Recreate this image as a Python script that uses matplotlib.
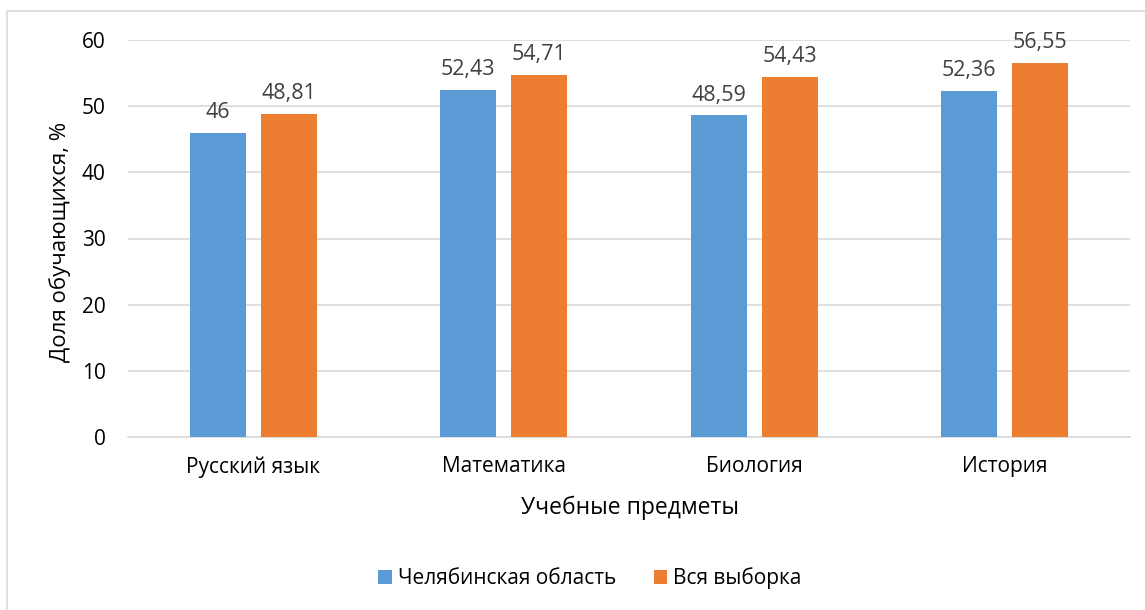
import matplotlib
matplotlib.use('Agg')
import matplotlib.pyplot as plt
import matplotlib.patches as mpatches
import numpy as np

categories = ['Русский язык', 'Математика', 'Биология', 'История']
chelyabinsk = [46, 52.43, 48.59, 52.36]
full_sample = [48.81, 54.71, 54.43, 56.55]
series_names = ['Челябинская область', 'Вся выборка']
yticks = [0, 10, 20, 30, 40, 50, 60]

plt.rcParams['font.family'] = ['Open Sans', 'DejaVu Sans']

blue = '#5B9BD5'
orange = '#ED7D31'

fig = plt.figure(figsize=(11.45, 6.1), dpi=100)
# outer chart border like the Excel chart area
fig.patches.append(mpatches.Rectangle((7 / 1145, -0.1), 1.2, 1 - 11 / 610 + 0.1,
                                      transform=fig.transFigure, fill=False,
                                      edgecolor='#D9D9D9', linewidth=1.2))

ax = fig.add_axes([128 / 1145, 1 - 437 / 610, (1130 - 128) / 1145, (437 - 40) / 610])

x = np.arange(len(categories))
w = 0.224
off = 0.142
b1 = ax.bar(x - off, chelyabinsk, w, color=blue, label=series_names[0], zorder=3)
b2 = ax.bar(x + off, full_sample, w, color=orange, label=series_names[1], zorder=3)

def fmt(v):
    s = ('%g' % v).replace('.', ',')
    return s

for bars, vals in ((b1, chelyabinsk), (b2, full_sample)):
    for rect, v in zip(bars, vals):
        ax.text(rect.get_x() + rect.get_width() / 2, v + 1.5, fmt(v),
                ha='center', va='bottom', fontsize=15.5, color='#404040')

ax.set_xlim(-0.5, len(categories) - 0.5)
ax.set_ylim(0, 60)
ax.set_yticks(yticks)
ax.set_xticks(x)
ax.set_xticklabels(categories)
ax.tick_params(axis='both', length=0, labelsize=15, colors='black')
ax.tick_params(axis='x', pad=14)
ax.tick_params(axis='y', pad=16)
ax.yaxis.grid(True, color='#D9D9D9', linewidth=1.2, zorder=0)
for s in ('top', 'right', 'left'):
    ax.spines[s].set_visible(False)
ax.spines['bottom'].set_color('#D9D9D9')
ax.spines['bottom'].set_linewidth(1.2)

fig.text(60 / 1145, 1 - 242 / 610, 'Доля обучающихся, %', rotation=90,
         ha='center', va='center', fontsize=16)
fig.text(630 / 1145, 1 - 508 / 610, 'Учебные предметы',
         ha='center', va='center', fontsize=16.5)

fig.legend(handles=[b1, b2], labels=series_names, loc='center',
           bbox_to_anchor=(590 / 1145, 1 - 578 / 610), ncol=2, frameon=False,
           fontsize=15, handlelength=0.65, handleheight=0.65, handletextpad=0.3,
           columnspacing=1.8)

fig.savefig('out.png', dpi=100)
